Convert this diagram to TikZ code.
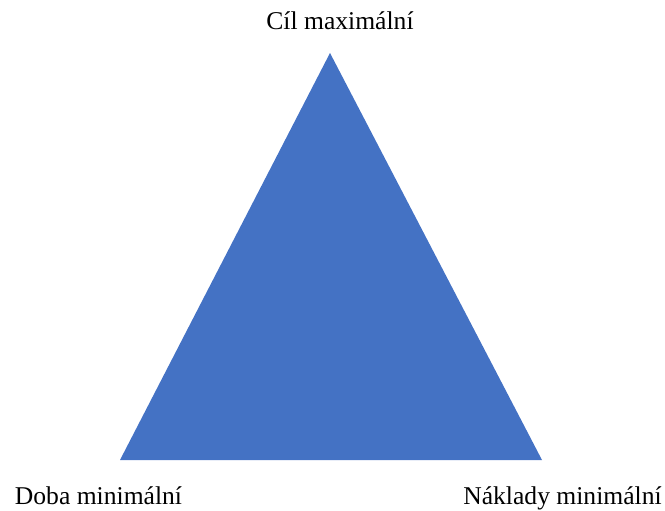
\documentclass[tikz,border=0pt]{standalone}
\usepackage{fontspec}
\setmainfont{Liberation Serif}
\definecolor{triblue}{HTML}{4472C4}
\begin{document}
\begin{tikzpicture}[x=1pt,y=-1pt,
  lbl/.style={font=\fontsize{25.6}{30}\selectfont, inner sep=0pt, anchor=base}]
\useasboundingbox (0,0) rectangle (665,511);
\coordinate (top) at (330,53);
\coordinate (bl) at (120,460);
\coordinate (br) at (542,460);
\fill[triblue] (top) -- (bl) -- (br) -- cycle;
\node[lbl] (t) at (340,30) {Cíl maximální};
\node[lbl] (l) at (98.5,504) {Doba minimální};
\node[lbl] (r) at (562.5,504) {Náklady minimální};
\end{tikzpicture}
\end{document}
